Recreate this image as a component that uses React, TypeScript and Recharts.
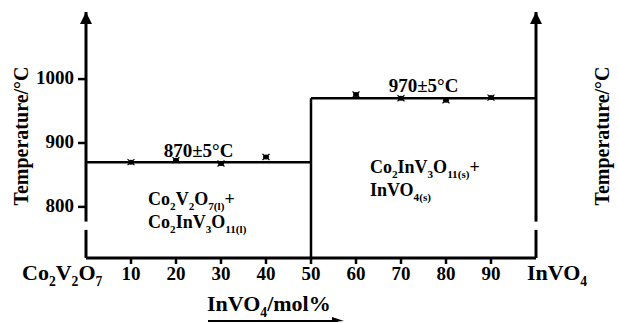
import React from 'react';
import { ComposedChart, XAxis, YAxis, Scatter, ReferenceLine, ReferenceDot } from 'recharts';

// ---- data ----
const compositionTicks = [0, 10, 20, 30, 40, 50, 60, 70, 80, 90, 100];
const temperatureTicks = [800, 900, 1000];
const temperatureDomain = [720, 1105];
const lowEutecticPoints = [
  { x: 10, t: 870 },
  { x: 20, t: 873 },
  { x: 30, t: 868 },
  { x: 40, t: 878 },
];
const highEutecticPoints = [
  { x: 60, t: 976 },
  { x: 70, t: 970 },
  { x: 80, t: 967 },
  { x: 90, t: 971 },
];
const lowBoundaryTemp = 870;
const highBoundaryTemp = 970;
const boundaryComposition = 50;
const axisBreak = [764, 777];
const lowLabel = '870±5°C';
const highLabel = '970±5°C';
const yTitle = 'Temperature/°C';
type Part = [string, boolean];
const leftEndLabel: Part[] = [['Co', false], ['2', true], ['V', false], ['2', true], ['O', false], ['7', true]];
const rightEndLabel: Part[] = [['InVO', false], ['4', true]];
const xTitle: Part[] = [['InVO', false], ['4', true], ['/mol%', false]];
const leftRegionLine1: Part[] = [['Co', false], ['2', true], ['V', false], ['2', true], ['O', false], ['7(l)', true], ['+', false]];
const leftRegionLine2: Part[] = [['Co', false], ['2', true], ['InV', false], ['3', true], ['O', false], ['11(l)', true]];
const rightRegionLine1: Part[] = [['Co', false], ['2', true], ['InV', false], ['3', true], ['O', false], ['11(s)', true], ['+', false]];
const rightRegionLine2: Part[] = [['InVO', false], ['4(s)', true]];
const lowLabelPos = { x: 25, t: 870 };
const highLabelPos = { x: 75, t: 970 };
const leftRegionPos = { x: 13.8, t: 803 };
const rightRegionPos = { x: 63.1, t: 853 };

const FONT = '"Liberation Serif", "Times New Roman", serif';

function Chem({ x, y, parts, size, anchor = 'start' }: { x: number; y: number; parts: Part[]; size: number; anchor?: string }) {
  const subSize = size * 0.62;
  const shift = size * 0.28;
  let cur = 0;
  return (
    <text x={x} y={y} fontSize={size} textAnchor={anchor as any} fontFamily={FONT} fontWeight="bold" fill="#000">
      {parts.map(([s, sub], i) => {
        const target = sub ? shift : 0;
        const dy = target - cur;
        cur = target;
        return (
          <tspan key={i} dy={dy} fontSize={sub ? subSize : size}>
            {s}
          </tspan>
        );
      })}
    </text>
  );
}

const XTick = (props: any) => {
  const { x, y, payload } = props;
  const v = payload.value;
  if (v === 0) {
    return <Chem x={x - 64} y={y + 22} parts={leftEndLabel} size={22} />;
  }
  if (v === 100) {
    return <Chem x={x - 9} y={y + 22} parts={rightEndLabel} size={22} />;
  }
  return (
    <g>
      <line x1={x} y1={y} x2={x} y2={y + 6} stroke="#000" strokeWidth={2.5} />
      <text x={x} y={y + 22} textAnchor="middle" fontSize={19} fontFamily={FONT} fontWeight="bold" fill="#000">
        {v}
      </text>
    </g>
  );
};

const LeftYTick = (props: any) => {
  const { x, y, payload } = props;
  return (
    <g>
      <line x1={x - 8} y1={y} x2={x} y2={y} stroke="#000" strokeWidth={2.5} />
      <text x={x - 12} y={y + 5} textAnchor="end" fontSize={19} fontFamily={FONT} fontWeight="bold" fill="#000">
        {payload.value}
      </text>
    </g>
  );
};

const RightYTick = (props: any) => {
  const { x, y, payload } = props;
  return (
    <g>
      <line x1={x} y1={y} x2={x + 8} y2={y} stroke="#000" strokeWidth={2.5} />
      <text x={x + 11} y={y + 5} textAnchor="start" fontSize={19} fontFamily={FONT} fontWeight="bold" fill="#000">
        {payload.value}
      </text>
    </g>
  );
};

const Marker = (props: any) => {
  const { cx, cy } = props;
  if (cx == null || cy == null) return null;
  return (
    <g>
      <ellipse cx={cx} cy={cy} rx={3} ry={2.5} fill="#000" />
      <path
        d={`M${cx - 3.5},${cy - 3}L${cx + 3.5},${cy + 3}M${cx + 3.5},${cy - 3}L${cx - 3.5},${cy + 3}`}
        stroke="#000"
        strokeWidth={1.2}
      />
    </g>
  );
};

const Arrow = (props: any) => {
  const { cx, cy } = props;
  return <polygon points={`${cx},${cy} ${cx - 6},${cy + 12} ${cx + 6},${cy + 12}`} fill="#000" />;
};

const textShape = (label: string, dy: number) => (props: any) => (
  <text x={props.cx} y={props.cy + dy} textAnchor="middle" fontSize={19} fontFamily={FONT} fontWeight="bold" fill="#000">
    {label}
  </text>
);

const regionShape = (l1: Part[], l2: Part[]) => (props: any) => (
  <g>
    <Chem x={props.cx} y={props.cy} parts={l1} size={18} />
    <Chem x={props.cx} y={props.cy + 23} parts={l2} size={18} />
  </g>
);

const XTitle = (props: any) => {
  const vb = props.viewBox || { x: 86, y: 258, width: 450, height: 65 };
  const x0 = vb.x + 121;
  const base = vb.y + 53;
  const ul = vb.y + 63;
  return (
    <g>
      <Chem x={x0} y={base} parts={xTitle} size={22} />
      <line x1={x0 + 1} y1={ul} x2={x0 + 131} y2={ul} stroke="#000" strokeWidth={2} />
      <polygon points={`${x0 + 137},${ul} ${x0 + 125},${ul - 4} ${x0 + 125},${ul + 1}`} fill="#000" />
    </g>
  );
};

const YTitle = (offset: number) => (props: any) => {
  const vb = props.viewBox || { x: 0, y: 12, width: 86, height: 246 };
  const cx = vb.x + offset;
  const cy = 136;
  return (
    <text
      x={cx}
      y={cy}
      transform={`rotate(-90, ${cx}, ${cy})`}
      textAnchor="middle"
      fontSize={20}
      fontFamily={FONT}
      fontWeight="bold"
      fill="#000"
    >
      {yTitle}
    </text>
  );
};

export default function App() {
  return (
    <div style={{ position: 'absolute', left: 0, top: 0, background: '#fff' }}>
      <ComposedChart width={618} height={323} margin={{ top: 12, right: 0, bottom: 0, left: 0 }}>
        <XAxis
          dataKey="x"
          type="number"
          domain={[0, 100]}
          ticks={compositionTicks}
          interval={0}
          height={65}
          tickSize={0}
          tickMargin={0}
          tickLine={false}
          axisLine={{ stroke: '#000', strokeWidth: 3 }}
          tick={<XTick />}
          label={{ content: <XTitle /> } as any}
        />
        <YAxis
          yAxisId="left"
          type="number"
          domain={temperatureDomain}
          ticks={temperatureTicks}
          width={86}
          tickSize={0}
          tickMargin={0}
          tickLine={false}
          axisLine={false}
          tick={<LeftYTick />}
          label={{ content: YTitle(28) } as any}
        />
        <YAxis
          yAxisId="right"
          orientation="right"
          type="number"
          domain={temperatureDomain}
          ticks={temperatureTicks}
          width={82}
          tickSize={0}
          tickMargin={0}
          tickLine={false}
          axisLine={false}
          tick={<RightYTick />}
          label={{ content: YTitle(73) } as any}
        />
        {/* axis lines with break */}
        <ReferenceLine yAxisId="left" ifOverflow="visible" segment={[{ x: 0, y: temperatureDomain[0] }, { x: 0, y: axisBreak[0] }]} stroke="#000" strokeWidth={3} />
        <ReferenceLine yAxisId="left" ifOverflow="visible" segment={[{ x: 0, y: axisBreak[1] }, { x: 0, y: temperatureDomain[1] }]} stroke="#000" strokeWidth={3} />
        <ReferenceLine yAxisId="left" ifOverflow="visible" segment={[{ x: 100, y: temperatureDomain[0] }, { x: 100, y: axisBreak[0] }]} stroke="#000" strokeWidth={3} />
        <ReferenceLine yAxisId="left" ifOverflow="visible" segment={[{ x: 100, y: axisBreak[1] }, { x: 100, y: temperatureDomain[1] }]} stroke="#000" strokeWidth={3} />
        <ReferenceDot yAxisId="left" ifOverflow="visible" x={0} y={temperatureDomain[1]} r={0} shape={<Arrow />} />
        <ReferenceDot yAxisId="left" ifOverflow="visible" x={100} y={temperatureDomain[1]} r={0} shape={<Arrow />} />
        {/* phase boundaries */}
        <ReferenceLine yAxisId="left" ifOverflow="visible" segment={[{ x: 0, y: lowBoundaryTemp }, { x: boundaryComposition, y: lowBoundaryTemp }]} stroke="#000" strokeWidth={2.5} />
        <ReferenceLine yAxisId="left" ifOverflow="visible" segment={[{ x: boundaryComposition, y: highBoundaryTemp }, { x: 100, y: highBoundaryTemp }]} stroke="#000" strokeWidth={2.5} />
        <ReferenceLine yAxisId="left" ifOverflow="visible" segment={[{ x: boundaryComposition, y: temperatureDomain[0] }, { x: boundaryComposition, y: highBoundaryTemp }]} stroke="#000" strokeWidth={2.5} />
        <Scatter yAxisId="left" data={lowEutecticPoints} dataKey="t" shape={<Marker />} isAnimationActive={false} />
        <Scatter yAxisId="left" data={highEutecticPoints} dataKey="t" shape={<Marker />} isAnimationActive={false} />
        <ReferenceDot yAxisId="left" ifOverflow="visible" x={lowLabelPos.x} y={lowLabelPos.t} r={0} shape={textShape(lowLabel, -5)} />
        <ReferenceDot yAxisId="left" ifOverflow="visible" x={highLabelPos.x} y={highLabelPos.t} r={0} shape={textShape(highLabel, -6)} />
        <ReferenceDot yAxisId="left" ifOverflow="visible" x={leftRegionPos.x} y={leftRegionPos.t} r={0} shape={regionShape(leftRegionLine1, leftRegionLine2)} />
        <ReferenceDot yAxisId="left" ifOverflow="visible" x={rightRegionPos.x} y={rightRegionPos.t} r={0} shape={regionShape(rightRegionLine1, rightRegionLine2)} />
      </ComposedChart>
    </div>
  );
}
